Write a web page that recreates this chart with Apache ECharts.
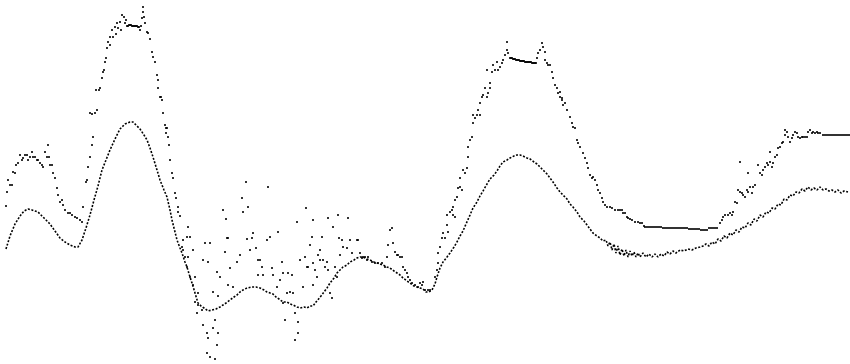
<!DOCTYPE html>
<html><head><meta charset="utf-8">
<script src="https://cdn.jsdelivr.net/npm/echarts@6/dist/echarts.min.js"></script>
<style>html,body{margin:0;padding:0;background:#fff}#c{width:850px;height:364px}</style>
</head><body><div id="c"></div>
<script>
// sample position, signal level (depth units, larger = lower)
const upperScatter = [
[6,206],[7,192],[8,180],[10,185],[12,185],[13,172],[15,173],[16,165],[18,163],[20,155],[22,160],[23,158],[25,155],[27,155],[28,160],[30,157],[32,152],[33,157],[35,157],[37,160],[38,160],[40,163],[42,165],[43,167],[45,152],[47,157],[48,145],[49,157],[50,165],[52,165],[53,173],[55,178],[57,188],[58,195],[60,202],[62,200],[63,205],[65,210],[68,213],[70,213],[72,215],[75,217],[77,218],[80,220],[82,222],[83,207],[86,182],[87,180],[88,167],[90,157],[92,145],[93,137],
[90,113],[92,114],[95,113],[97,110],[96,90],[99,90],[100,88],[102,78],[103,72],[104,70],[105,62],[106,58],[107,48],[108,42],[110,37],[110,45],[112,30],[113,37],[115,27],[116,34],[117,23],[118,28],[120,22],[121,30],[122,15],[124,17],[125,23],[126,20],[140,30],[141,26],[142,18],[143,7],[143,12],[144,17],
[145,23],[147,32],[148,33],[150,39],[152,52],[153,57],[155,62],[157,75],[158,80],[158,88],[160,97],[161,97],[162,100],[163,113],[165,125],[166,128],[167,128],[166,133],[168,137],[169,145],[170,160],[172,173],[173,178],[175,193],[176,198],[178,207],[178,212],[180,216],
[188,227],[187,237],[190,237],[183,240],[182,247],[183,250],[193,250],[185,257],[188,257],[187,267],[190,277],[195,277],[193,285],[198,293],[195,302],[198,305],[197,313],[202,310],[203,325],[207,333],[208,338],[213,328],[217,345],[207,353],[210,357],[215,359],[218,333],[215,320],[205,243],[210,243],[203,260],[208,262],[213,292],[218,296],[217,272],[220,277],[223,210],[226,219],[227,238],[225,252],[228,238],[230,268],[228,285],[233,287],[237,262],[240,255],[242,198],[243,212],[246,182],[248,207],[247,239],[250,250],[252,238],[253,233],[256,248],[258,260],[260,260],[262,267],[258,275],[263,275],[267,240],[268,187],[270,237],[272,268],[273,275],[277,287],[278,232],[280,280],[282,262],[283,303],[285,320],[283,273],[287,293],[288,273],[290,292],[292,275],[293,293],[295,313],[295,340],[298,333],[298,322],[300,260],[297,222],[303,287],[305,257],[306,208],[307,267],[308,267],[310,245],[312,237],[313,220],[313,263],[313,285],[315,270],[317,277],[318,255],[320,250],[320,260],[322,237],[323,260],[325,267],[327,262],[328,270],[328,218],[330,293],[332,298],[333,227],[335,267],[337,277],[338,215],[339,238],[340,255],[342,240],[343,247],[347,248],[348,218],[350,240],[352,253],[357,240],[358,240],[360,253],[362,258],[363,257],[365,257],[367,260],[368,257],[372,262],[375,263],[378,263],[382,263],[385,267],[387,257],[388,245],[390,230],[392,228],[393,243],[395,252],[397,255],[398,255],[400,257],[402,257],[403,267],[405,270],[407,273],[408,277],[410,280],[412,283],[415,285],[418,287],[420,283],[422,285],[423,282],[425,290],[428,290],[430,290],
[435,277],[437,270],[438,263],[438,253],[440,247],[442,238],[443,233],[445,238],[447,225],[447,215],[448,232],[450,212],[452,210],[453,215],[453,207],[455,217],[455,200],[457,197],[458,188],[460,187],[460,178],[462,190],[463,170],[465,173],[467,168],[468,157],[468,147],[470,140],[472,137],[473,123],[473,115],[475,118],[477,115],[478,110],[480,115],[480,103],[482,97],[483,95],[485,88],[487,97],[488,93],[490,88],[490,83],[487,70],[492,72],[493,65],[495,70],[497,62],[498,70],[500,67],[502,63],[503,60],[505,55],[507,50],[507,42],[508,53],
[537,58],[538,53],[540,50],[542,43],[543,47],[545,52],[545,60],[547,63],[548,65],[550,65],[552,72],[553,78],[555,85],[557,88],[558,93],[560,97],[560,92],[562,100],[562,98],[563,105],[565,103],[567,110],[570,117],[572,123],[573,127],[575,128],[577,140],[578,143],[580,147],[583,153],[585,158],[587,163],[588,168],[590,175],[592,178],[593,177],[595,180],[597,185],[598,190],[600,193],[602,198],[603,202],[605,205],[607,207],[610,207],[612,208],[615,210],[618,210],[620,210],[622,210],[623,213],[625,213],[627,217],[628,218],[630,219],[632,220],[635,222],[638,222],[640,223],[642,223],[644,226],
[720,223],[722,220],[723,217],[725,215],[728,215],[730,213],[732,215],[733,212],[735,202],[737,203],[738,190],[740,192],[742,193],[743,195],[745,197],[747,190],[748,192],[750,187],[752,193],[753,187],[755,185],[740,162],[748,173],[758,165],[760,173],[762,175],[763,170],[765,167],[767,163],[768,165],[770,162],[772,167],[773,163],[770,152],[775,157],[777,155],[778,148],[780,147],[782,143],[783,142],[785,135],[785,130],[787,132],[788,137],[790,142],[792,138],[793,135],[795,132],[797,133],[798,137],[800,138],[802,137],[803,137],[805,137],[807,137],[808,132],[810,130],[812,133],[813,132],[815,133],[817,132],[818,133],[820,133]
];
// stretches where the upper signal holds steady
const upperPlateaus = [
[127,26],[128,26],[129,25],[130,25],[131,25],[132,26],[133,26],[134,26],[135,26],[136,26],[137,26],[138,27],[139,27],
[510,58],[511,58],[512,58],[513,59],[514,59],[515,59],[516,60],[517,60],[518,60],[519,60],[520,61],[521,61],[522,61],[523,61],[524,61],[525,62],[526,62],[527,62],[528,62],[529,62],[530,62],[531,62],[532,63],[533,63],[534,63],[535,63],[536,63],
[645,227],[647,227],[649,227],[651,227],[653,227],[655,227],[657,227],[659,227],[661,227],[663,228],[665,228],[667,228],[669,228],[671,228],[673,228],[675,228],[677,228],[679,228],[681,228],[683,228],[685,228],[687,228],[689,229],[691,229],[693,229],[695,229],[697,229],[699,229],[701,230],[703,230],[705,230],[707,230],[709,228],[711,228],[713,228],[715,228],[717,228],
[823,135],[825,135],[827,135],[829,135],[831,135],[833,135],[835,135],[837,135],[839,135],[841,135],[843,135],[845,135],[847,135],[849,135]
];
const lowerTrace = [
[6,249],[10,236],[15,224],[20,216],[24,211],[28,209],[32,210],[35,211],[38,212],[42,216],[46,220],[50,224],[55,231],[60,238],[65,242],[70,245],[75,247],[78,247],[82,240],[86,228],[90,215],[94,200],[98,186],[102,170],[106,160],[110,150],[115,139],[120,129],[125,124],[130,122],[133,122],[136,125],[140,129],[144,135],[147,140],[150,148],[153,157],[157,170],[160,180],[164,190],[167,197],[170,210],[172,220],[175,232],[177,240],[180,248],[182,253],[185,262],[187,267],[190,277],[192,283],[195,293],[198,303],[201,306],[204,308],[208,311],[212,310],[216,309],[220,307],[223,305],[226,303],[230,300],[234,297],[237,295],[240,292],[243,290],[247,288],[252,287],[256,287],[260,288],[264,290],[267,292],[270,293],[273,294],[276,297],[279,299],[283,302],[287,302],[290,304],[293,305],[297,307],[300,308],[304,307],[307,308],[310,306],[313,306],[316,302],[318,300],[321,296],[324,292],[327,288],[330,283],[334,278],[337,273],[340,270],[343,267],[347,265],[350,262],[354,260],[357,258],[360,257],[363,257],[367,259],[370,260],[374,262],[377,263],[380,264],[383,265],[387,267],[390,268],[394,271],[397,273],[400,275],[403,278],[407,281],[410,283],[414,286],[417,287],[420,288],[423,289],[426,292],[429,292],[432,290],[435,284],[437,277],[440,268],[443,262],[447,257],[450,253],[454,247],[457,242],[460,236],[463,231],[466,224],[470,215],[473,208],[477,202],[480,196],[483,191],[487,184],[490,179],[494,175],[497,171],[500,166],[503,162],[507,160],[510,158],[514,156],[517,155],[520,155],[523,156],[527,158],[530,159],[534,162],[537,164],[540,167],[543,170],[547,174],[550,178],[553,182],[557,188],[560,192],[563,195],[567,199],[570,204],[573,207],[577,212],[580,217],[584,221],[587,225],[590,229],[593,233],[597,236],[600,238],[603,241],[606,240],[608,246],[610,242],[612,250],[614,244],[616,253],[618,246],[620,255],[622,249],[624,256],[626,250],[628,257],[630,251],[632,256],[634,252],[636,257],[638,253],[640,257],[643,253],[646,257],[649,254],[652,257],[655,254],[658,257],[661,254],[664,256],[667,252],[670,254],[673,251],[676,253],[680,250],[684,251],[688,249],[692,250],[696,248],[700,247],[703,246],[706,244],[709,246],[712,242],[715,244],[718,239],[721,241],[724,236],[727,238],[730,233],[733,235],[736,230],[739,232],[742,227],[745,228],[748,223],[751,225],[754,219],[757,221],[760,215],[763,217],[766,212],[769,213],[772,208],[775,209],[778,204],[781,205],[784,199],[787,200],[790,195],[793,196],[796,192],[799,193],[802,189],[805,191],[808,187],[811,190],[814,188],[817,190],[820,187],[823,190],[826,189],[829,191],[832,190],[835,192],[838,190],[841,193],[844,191],[848,192]
];

const chart = echarts.init(document.getElementById('c'), null, {renderer: 'canvas'});
chart.setOption({
  animation: false,
  backgroundColor: '#ffffff',
  grid: {left: 0, right: 0, top: 0, bottom: 0},
  xAxis: {type: 'value', min: 0, max: 850, show: false},
  yAxis: {type: 'value', min: 0, max: 364, inverse: true, show: false},
  series: [
    {type: 'line', data: lowerTrace, showSymbol: false, symbol: 'none', smooth: false,
     lineStyle: {color: '#000', width: 1.6, type: [2, 1.6]}},
    {type: 'scatter', data: upperScatter.concat(upperPlateaus), symbol: 'rect', symbolSize: [2, 2],
     itemStyle: {color: '#000'}}
  ]
});
</script></body></html>
